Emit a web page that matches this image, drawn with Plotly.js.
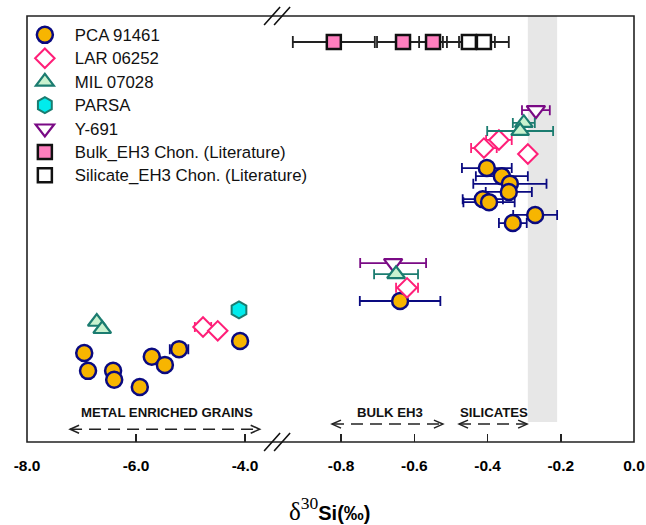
<!DOCTYPE html>
<html><head><meta charset="utf-8">
<script src="https://cdn.plot.ly/plotly-3.0.1.min.js"></script>
<style>html,body{margin:0;padding:0;background:#fff}</style>
</head><body><div id="chart" style="width:646px;height:525px"></div>
<script>
// ---------------- DATA ----------------
// y values are relative vertical positions (the chart has no y scale)
// PCA 91461
const pcaMetalX   = [-6.95, -6.88, -6.42, -6.40, -5.93, -5.71, -5.47, -5.21, -4.09];
const pcaMetalY   = [20.9, 16.7, 16.7, 14.6, 12.9, 20.0, 18.1, 21.8, 23.7];
const pcaMetalErr = [0, 0, 0, 0, 0, 0, 0, 0.17, 0];
const pcaX   = [-0.639, -0.402, -0.361, -0.339, -0.342, -0.413, -0.396, -0.331, -0.270];
const pcaY   = [33.1, 64.3, 62.4, 60.6, 58.7, 57.0, 56.3, 51.4, 53.3];
const pcaErr = [0.11, 0.068, 0.071, 0.10, 0.063, 0.055, 0.07, 0.038, 0.06];
// LAR 06252
const larMetalX   = [-4.77, -4.50];
const larMetalY   = [27.0, 26.1];
const larMetalErr = [0.15, 0];
const larX   = [-0.620, -0.410, -0.369, -0.290];
const larY   = [36.2, 69.0, 70.9, 67.6];
const larErr = [0.03, 0.035, 0.035, 0];
// MIL 07028
const milMetalX = [-6.72, -6.62];
const milMetalY = [28.2, 26.5];
const milX   = [-0.650, -0.301, -0.311];
const milY   = [39.4, 74.9, 73.0];
const milErr = [0.06, 0.03, 0.09];
// PARSA
const parsaMetalX = [-4.11];
const parsaMetalY = [31.0];
// Y-691
const yX   = [-0.658, -0.268];
const yY   = [42.0, 77.9];
const yErr = [0.09, 0.038];
// Literature
const bulkLitX   = [-0.820, -0.631, -0.549];
const bulkLitY   = [93.9, 93.9, 93.9];
const bulkLitErr = [0.112, 0.071, 0.038];
const silLitX   = [-0.451, -0.410];
const silLitY   = [93.9, 93.9];
const silLitErr = [0.071, 0.068];
// axis ticks
const leftTicks  = [-8, -6, -4];
const leftLabels = ['-8.0', '-6.0', '-4.0'];
const rightTicks  = [-0.8, -0.6, -0.4, -0.2, 0.0];
const rightLabels = ['-0.8', '-0.6', '-0.4', '-0.2', '0.0'];
// shaded band and region labels
const bandX = [-0.29, -0.21];
const regionLabels = ['METAL ENRICHED GRAINS', 'BULK EH3', 'SILICATES'];

// ---------------- STYLE ----------------
const SPLIT = 0.412;
const LEFT_RANGE = [-8, -3.411];
const RIGHT_RANGE = [-0.975, 0];
const SANS = 'Liberation Sans, Arial, sans-serif';

const st = {
  pca:   {symbol:'circle', size:16, color:'#f7b500', line:{color:'#0a0a80', width:2.5}, ec:'#0a0a80'},
  lar:   {symbol:'diamond', size:15, color:'#ffffff', line:{color:'#ff1f78', width:2}, ec:'#ff1f78'},
  mil:   {symbol:'triangle-up', size:15.5, color:'#c9f2cf', line:{color:'#1b7c70', width:2.2}, ec:'#1b7c70'},
  parsa: {symbol:'hexagon', size:17, color:'#00ecec', line:{color:'#1b7c70', width:2}, ec:'#1b7c70'},
  y691:  {symbol:'triangle-down', size:16, color:'#ffffff', line:{color:'#7a0a85', width:2.2}, ec:'#7a0a85'},
  bulk:  {symbol:'square', size:14, color:'#ff7fbf', line:{color:'#111', width:2.5}, ec:'#222'},
  sil:   {symbol:'square', size:14, color:'#ffffff', line:{color:'#111', width:2.5}, ec:'#222'}
};

function legendName(n) { return '<span style="font-size:16.8px">' + n + '</span>'; }

function tr(name, xs, ys, errs, xaxis, s, show, rank, capw) {
  const t = {
    type:'scatter', mode:'markers', name:legendName(name), x:xs, y:ys,
    xaxis:xaxis, yaxis:'y', showlegend:show, legendrank:rank, hoverinfo:'skip',
    marker:{symbol:s.symbol, size:s.size, color:s.color, line:s.line, opacity:1}
  };
  if (errs) t.error_x = {type:'data', array:errs, visible:true, color:s.ec, thickness:1.8, width:capw||5};
  return t;
}

const data = [
  tr('Bulk_EH3 Chon. (Literature)', bulkLitX, bulkLitY, bulkLitErr, 'x2', st.bulk, true, 6, 6),
  tr('Silicate_EH3 Chon. (Literature)', silLitX, silLitY, silLitErr, 'x2', st.sil, true, 7, 6),
  tr('Y-691', yX, yY, yErr, 'x2', st.y691, true, 5),
  tr('PCA 91461', pcaMetalX, pcaMetalY, pcaMetalErr, 'x', st.pca, true, 1),
  tr('PCA 91461', pcaX, pcaY, pcaErr, 'x2', st.pca, false, 1),
  tr('LAR 06252', larMetalX, larMetalY, larMetalErr, 'x', st.lar, true, 2),
  tr('LAR 06252', larX, larY, larErr, 'x2', st.lar, false, 2),
  tr('MIL 07028', milMetalX, milMetalY, null, 'x', st.mil, true, 3),
  tr('MIL 07028', milX, milY, milErr, 'x2', st.mil, false, 3),
  tr('PARSA', parsaMetalX, parsaMetalY, null, 'x', st.parsa, true, 4)
];

const axisCommon = {
  ticks:'inside', ticklen:8, tickwidth:1.5, tickcolor:'#222',
  showgrid:false, zeroline:false, showline:false, anchor:'y',
  ticklabelstandoff:12,
  tickfont:{family:SANS, size:15.5, color:'#000', weight:'bold'}, fixedrange:true
};

function slash(xa, ya) {
  return {type:'path', xref:'paper', yref:'paper', xsizemode:'pixel', ysizemode:'pixel',
    xanchor:xa, yanchor:ya, path:'M-13,-9 L3,9 M-3,-9 L13,9',
    line:{color:'#111', width:1.6}, layer:'above'};
}
function arrowLine(xref, x0, x1, y) {
  return [
    {type:'line', xref:xref, yref:'y', x0:x0, x1:x1, y0:y, y1:y,
     line:{color:'#222', width:1.5, dash:'12px,7px'}},
    {type:'path', xref:xref, yref:'y', xsizemode:'pixel', ysizemode:'pixel', xanchor:x0, yanchor:y,
     path:'M9,4 L0,0 L9,-4', line:{color:'#222', width:1.5}},
    {type:'path', xref:xref, yref:'y', xsizemode:'pixel', ysizemode:'pixel', xanchor:x1, yanchor:y,
     path:'M-9,4 L0,0 L-9,-4', line:{color:'#222', width:1.5}}
  ];
}

const shapes = [
  {type:'rect', xref:'x2', yref:'y', x0:bandX[0], x1:bandX[1], y0:4.7, y1:100,
   fillcolor:'#e7e7e7', line:{width:0}, layer:'below'},
  {type:'rect', xref:'paper', yref:'paper', x0:0, x1:1, y0:0, y1:1,
   line:{color:'#222', width:1.6}, layer:'above'},
  slash(SPLIT, 0), slash(SPLIT, 1),
  ...arrowLine('x', -7.21, -3.73, 3.0),
  ...arrowLine('x2', -0.825, -0.522, 4.2),
  ...arrowLine('x2', -0.478, -0.292, 4.2)
];

const annFont = {family:SANS, size:13.2, color:'#111', weight:'bold'};
const annotations = [
  {xref:'x', yref:'y', x:-5.43, y:7.0, text:regionLabels[0], showarrow:false, font:annFont},
  {xref:'x2', yref:'y', x:-0.667, y:7.0, text:regionLabels[1], showarrow:false, font:annFont},
  {xref:'x2', yref:'y', x:-0.383, y:7.0, text:regionLabels[2], showarrow:false, font:annFont},
  {xref:'paper', yref:'paper', x:(330-27)/607, y:-0.158, xanchor:'center', yanchor:'middle', showarrow:false,
   text:'<span style="font-family:Liberation Serif,Times New Roman,serif;font-size:25px">δ<sup>30</sup></span><b>Si(‰)</b>',
   font:{family:SANS, size:20, color:'#000'}}
];

const layout = {
  width:646, height:525,
  margin:{l:27, r:12, t:16, b:83, pad:0},
  paper_bgcolor:'#ffffff', plot_bgcolor:'rgba(0,0,0,0)',
  showlegend:true,
  xaxis:Object.assign({}, axisCommon, {domain:[0, SPLIT], range:LEFT_RANGE, tickvals:leftTicks, ticktext:leftLabels}),
  xaxis2:Object.assign({}, axisCommon, {domain:[SPLIT, 1], range:RIGHT_RANGE, tickvals:rightTicks, ticktext:rightLabels}),
  yaxis:{range:[0, 100], visible:false, fixedrange:true},
  legend:{x:-0.02, y:0.995, xanchor:'left', yanchor:'top', bgcolor:'rgba(0,0,0,0)', borderwidth:0,
          font:{family:SANS, size:15.7, color:'#111'}, itemwidth:50, traceorder:'normal'},
  shapes:shapes,
  annotations:annotations
};

Plotly.newPlot('chart', data, layout, {staticPlot:true, displayModeBar:false});
</script></body></html>
